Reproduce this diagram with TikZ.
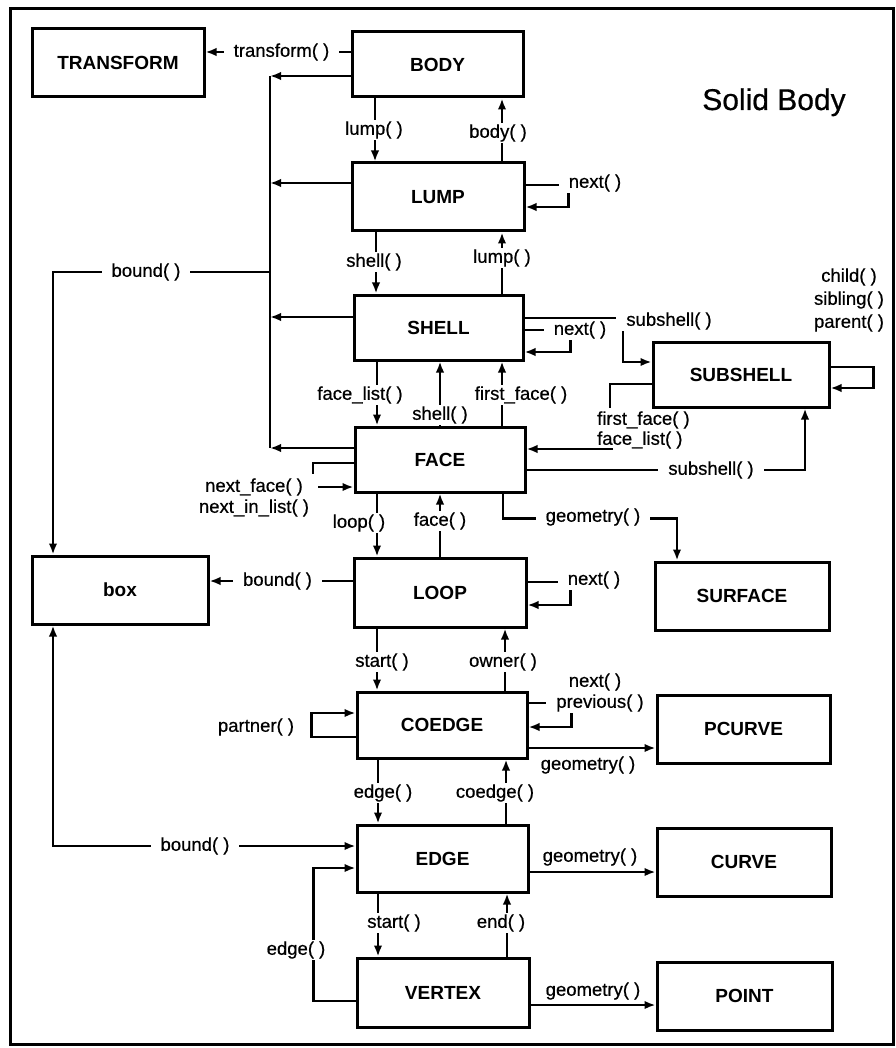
\documentclass[tikz,border=0pt]{standalone}
\usepackage{fontspec}
\setmainfont{Liberation Sans}
\newfontfamily\lblfont{Liberation Sans}[FakeBold=0.6]
\usetikzlibrary{arrows.meta}
\begin{document}
\begin{tikzpicture}[x=1pt,y=-1pt,
  ent/.style={draw, line width=3pt, inner sep=0pt, font=\fontsize{19}{19}\selectfont\bfseries},
  lbl/.style={fill=white, inner xsep=10pt, inner ysep=1.5pt, font=\fontsize{18.5}{18.5}\lblfont},
  txt/.style={inner sep=0pt, font=\fontsize{18.5}{18.5}\lblfont},
  cn/.style={line width=2.6pt},
  ar/.style={cn, -{Latex[length=11pt,width=8.5pt]}},
  arb/.style={cn, {Latex[length=11pt,width=8.5pt]}-{Latex[length=11pt,width=8.5pt]}},
]
\useasboundingbox (0,0) rectangle (895,1048);
\draw[line width=3pt] (10,9) rectangle (893,1044);

% boxes
\node[ent, minimum width=172pt, minimum height=68pt] (TRANSFORM) at (118,63) {TRANSFORM};
\node[ent, minimum width=171pt, minimum height=65pt] (BODY) at (437.5,64.5) {BODY};
\node[ent, minimum width=172pt, minimum height=68pt] (LUMP) at (438,197) {LUMP};
\node[ent, minimum width=169pt, minimum height=65pt] (SHELL) at (438.5,327.5) {SHELL};
\node[ent, minimum width=170pt, minimum height=65pt] (FACE) at (440,459.5) {FACE};
\node[ent, minimum width=172pt, minimum height=69pt] (LOOP) at (440,592.5) {LOOP};
\node[ent, minimum width=170pt, minimum height=66pt] (COEDGE) at (442,725) {COEDGE};
\node[ent, minimum width=171pt, minimum height=67pt] (EDGE) at (442.5,858.5) {EDGE};
\node[ent, minimum width=172pt, minimum height=69pt] (VERTEX) at (443,992.5) {VERTEX};
\node[ent, minimum width=176pt, minimum height=68pt] (BOX) at (120,590) {box};
\node[ent, minimum width=176pt, minimum height=65pt] (SUBSHELL) at (741,374.5) {SUBSHELL};
\node[ent, minimum width=174pt, minimum height=68pt] (SURFACE) at (742,596) {SURFACE};
\node[ent, minimum width=173pt, minimum height=68pt] (PCURVE) at (743.5,729) {PCURVE};
\node[ent, minimum width=174pt, minimum height=68pt] (CURVE) at (744,862) {CURVE};
\node[ent, minimum width=175pt, minimum height=68pt] (POINT) at (744.5,996) {POINT};

\node[font=\fontsize{30}{30}\lblfont, anchor=base, inner sep=0pt] (TITLE) at (774,110) {Solid Body};

% x positions of vertical links
\coordinate (xa) at (375,0);
\coordinate (xb) at (376,0);
\coordinate (xc) at (377,0);
\coordinate (xd) at (378,0);
\coordinate (xm) at (440,0);
\coordinate (xr) at (502,0);
\coordinate (xs) at (505,0);
\coordinate (xt) at (506,0);
\coordinate (xu) at (507,0);

\draw[ar] (BODY.south -| xa) -- (LUMP.north -| xa);
\draw[ar] (LUMP.north -| xr) -- (BODY.south -| xr);
\draw[ar] (LUMP.south -| xb) -- (SHELL.north -| xb);
\draw[ar] (SHELL.north -| xr) -- (LUMP.south -| xr);
\draw[ar] (SHELL.south -| xc) -- (FACE.north -| xc);
\draw[ar] (FACE.north -| xm) -- (SHELL.south -| xm);
\draw[ar] (FACE.north -| xr) -- (SHELL.south -| xr);
\draw[ar] (FACE.south -| xc) -- (LOOP.north -| xc);
\draw[ar] (LOOP.north -| xm) -- (FACE.south -| xm);
\draw[ar] (LOOP.south -| xc) -- (COEDGE.north -| xc);
\draw[ar] (COEDGE.north -| xs) -- (LOOP.south -| xs);
\draw[ar] (COEDGE.south -| xd) -- (EDGE.north -| xd);
\draw[ar] (EDGE.north -| xt) -- (COEDGE.south -| xt);
\draw[ar] (EDGE.south -| xd) -- (VERTEX.north -| xd);
\draw[ar] (VERTEX.north -| xu) -- (EDGE.south -| xu);

\node[lbl] (l1) at (374,130) {lump( )};
\node[lbl] (l2) at (498,133) {body( )};
\node[lbl] (l3) at (374,262) {shell( )};
\node[lbl] (l4) at (502,258) {lump( )};
\node[lbl] (l5) at (360,395) {face\_list( )};
\node[lbl] (l6) at (440,415) {shell( )};
\node[lbl] (l7) at (521,395) {first\_face( )};
\node[lbl] (l8) at (359,523) {loop( )};
\node[lbl] (l9) at (440,521) {face( )};
\node[lbl] (l10) at (382,662) {start( )};
\node[lbl] (l11) at (503,662) {owner( )};
\node[lbl] (l12) at (383,793) {edge( )};
\node[lbl] (l13) at (495,793) {coedge( )};
\node[lbl] (l14) at (394,923) {start( )};
\node[lbl] (l15) at (501,923) {end( )};

% transform
\draw[ar] ([yshift=12.5pt]BODY.west) -- ([yshift=11pt]TRANSFORM.east);
\node[lbl] (lt) at (281.5,52) {transform( )};

% bus
\coordinate (bus0) at (270,76);
\coordinate (bus1) at (270,183);
\coordinate (bus2) at (270,317);
\coordinate (bus3) at (270,448);
\coordinate (bt) at (270,272);
\draw[cn] (bus0) -- (bus3);
\draw[ar] ([yshift=-11.5pt]BODY.west) -- (bus0);
\draw[ar] ([yshift=14pt]LUMP.west) -- (bus1);
\draw[ar] ([yshift=10.5pt]SHELL.west) -- (bus2);
\draw[ar] ([yshift=11.5pt]FACE.west) -- (bus3);
\draw[ar] (bt) -| ([xshift=-67pt]BOX.north);
\node[lbl] (lb1) at (146,272) {bound( )};

% LOOP bound
\draw[ar] ([yshift=11.5pt]LOOP.west) -- ([yshift=9pt]BOX.east);
\node[lbl] (lb2) at (277.5,581) {bound( )};

% EDGE bound
\draw[arb] ([xshift=-67pt]BOX.south) |- ([yshift=12.5pt]EDGE.west);
\node[lbl] (lb3) at (195,846) {bound( )};

% LUMP next
\draw[ar] ([yshift=12pt]LUMP.east) -- ++(43,0) |- ([yshift=-10pt]LUMP.east);
\node[lbl] (ln1) at (595,183) {next( )};

% SHELL next
\draw[ar] ([yshift=-2.5pt]SHELL.east) -- ++(46,0) |- ([yshift=-24.5pt]SHELL.east);
\node[lbl] (ln2) at (580,330) {next( )};

% SHELL -> SUBSHELL
\coordinate (sc) at (623,318);
\draw[ar] ([yshift=9.5pt]SHELL.east) -- (sc) |- ([yshift=12.5pt]SUBSHELL.west);
\node[lbl] (lss1) at (669,321) {subshell( )};

% SUBSHELL self loop
\draw[ar] ([yshift=7.5pt]SUBSHELL.east) -- ++(43,0) |- ([yshift=-13.5pt]SUBSHELL.east);
\node[txt, align=center, font=\fontsize{18.5}{23}\lblfont] (lkids) at (849,300) {child( )\\sibling( )\\parent( )};

% SUBSHELL -> FACE
\coordinate (ff1) at (610,408);
\coordinate (ff2) at (613,449);
\draw[cn] ([yshift=-9.5pt]SUBSHELL.west) -| (ff1);
\draw[ar] (ff2) -- ([yshift=10.5pt]FACE.east);
\node[txt, align=left, anchor=west, font=\fontsize{18.5}{20}\lblfont] (lff) at (597,430) {first\_face( )\\face\_list( )};

% FACE -> SUBSHELL
\draw[ar] ([yshift=-10.5pt]FACE.east) -| ([xshift=64pt]SUBSHELL.south);
\node[lbl] (lss2) at (711,470) {subshell( )};

% FACE next_face
\coordinate (nf1) at (313,474);
\coordinate (nf2) at (318,487);
\draw[cn] ([yshift=-3.5pt]FACE.west) -| (nf1);
\draw[ar] (nf2) -- ([yshift=-27.5pt]FACE.west);
\node[txt, align=center, font=\fontsize{18.5}{21}\lblfont] (lnf) at (254,497.5) {next\_face( )\\next\_in\_list( )};

% FACE geometry -> SURFACE
\draw[ar] ([xshift=63pt]FACE.south) -- ++(0,25) -| ([xshift=-65pt]SURFACE.north);
\node[lbl] (lg1) at (593,517) {geometry( )};

% LOOP next
\draw[ar] ([yshift=10.5pt]LOOP.east) -- ++(43,0) |- ([yshift=-12.5pt]LOOP.east);
\node[lbl] (ln3) at (594,580) {next( )};

% COEDGE partner
\draw[ar] ([yshift=-12pt]COEDGE.west) -- ++(-44,0) |- ([yshift=12pt]COEDGE.west);
\node[txt] (lp) at (256,727) {partner( )};

% COEDGE next / previous
\draw[ar] ([yshift=22pt]COEDGE.east) -- ++(43,0) |- ([yshift=-2pt]COEDGE.east);
\node[txt] (lnx) at (595,682) {next( )};
\node[lbl] (lpv) at (600,703) {previous( )};

% COEDGE -> PCURVE
\draw[ar] ([yshift=-23pt]COEDGE.east) -- ([yshift=-19pt]PCURVE.west);
\node[txt] (lg2) at (588,765) {geometry( )};

% VERTEX edge
\draw[ar] ([yshift=-8.5pt]VERTEX.west) -- ++(-42,0) |- ([yshift=-9.5pt]EDGE.west);
\node[lbl] (le) at (296,950) {edge( )};

% EDGE -> CURVE
\draw[ar] ([yshift=-13.5pt]EDGE.east) -- ([yshift=-10pt]CURVE.west);
\node[txt] (lg3) at (590,857) {geometry( )};

% VERTEX -> POINT
\draw[ar] ([yshift=-12.5pt]VERTEX.east) -- ([yshift=-9pt]POINT.west);
\node[txt] (lg4) at (593,991) {geometry( )};
\end{tikzpicture}
\end{document}
